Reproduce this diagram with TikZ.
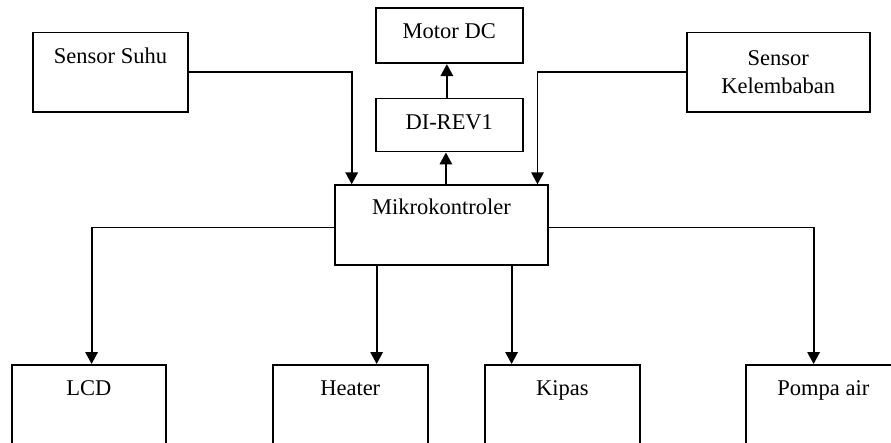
\documentclass[tikz,border=0pt]{standalone}
\usepackage{fontspec}
\setmainfont{Liberation Serif}
\usetikzlibrary{arrows.meta}

\begin{document}
\begin{tikzpicture}[x=1pt,y=-1pt,
  blok/.style={draw,line width=1.8pt,inner sep=0pt,anchor=north west},
  panah/.style={line width=1.8pt,-{Triangle[width=12.5pt,length=12pt]}}]
  \useasboundingbox (0,0) rectangle (891,443);
  \clip (0,0) rectangle (891,443);
  \fontsize{22.5}{28.7}\selectfont

  \node[blok,minimum width=154.7pt,text height=30.6pt,text depth=48.7pt] (suhu) at (32.3,31.7) {Sensor Suhu};
  \node[blok,minimum width=146.7pt,text height=30pt,text depth=25pt] (motor) at (375,7.3) {Motor DC};
  \node[blok,minimum width=146.7pt,text height=30.6pt,text depth=22.4pt] (direv) at (375,97.7) {DI-REV1};
  \node[blok,minimum width=212.4pt,text height=29pt,text depth=51pt] (mikro) at (334.3,184.3) {Mikrokontroler};
  \node[blok,minimum width=183.3pt,minimum height=79.3pt,align=center] (lembab) at (685.7,31.7) {Sensor\\Kelembaban};

  \node[blok,minimum width=154.6pt,text height=30.3pt,text depth=100pt] (lcd) at (10.7,364) {LCD};
  \node[blok,minimum width=154.7pt,text height=30.3pt,text depth=100pt] (heater) at (272,364) {Heater};
  \node[blok,minimum width=155pt,text height=30.3pt,text depth=100pt] (kipas) at (484,364) {Kipas};
  \node[blok,minimum width=155pt,text height=30.3pt,text depth=100pt] (pompa) at (745,364) {Pompa air};

  \draw[panah] (suhu.east) -| ([xshift=17.4pt]mikro.north west);
  \draw[panah] (lembab.west) -| ([xshift=-11pt]mikro.north east);
  \draw[panah] ([xshift=4.5pt]mikro.north) -- ([xshift=4.5pt]mikro.north |- direv.south);
  \draw[panah] ([xshift=-2.4pt]direv.north) -- ([xshift=-2.4pt]motor.south);

  \draw[panah] ([yshift=-2.4pt]mikro.west) -| ([xshift=2.7pt]lcd.north);
  \draw[panah] ([yshift=-2.4pt]mikro.east) -| ([xshift=-9.8pt]pompa.north);
  \draw[panah] ([xshift=26.4pt]heater.north |- mikro.south) -- ([xshift=26.4pt]heater.north);
  \draw[panah] ([xshift=-50.8pt]kipas.north |- mikro.south) -- ([xshift=-50.8pt]kipas.north);
\end{tikzpicture}
\end{document}
